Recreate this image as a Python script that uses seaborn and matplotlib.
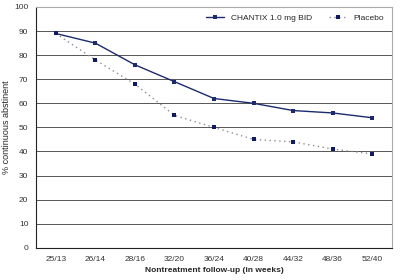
import matplotlib
matplotlib.use("Agg")
import matplotlib.pyplot as plt
import seaborn as sns
import pandas as pd

# datos
semanas = ["25/13", "26/14", "28/16", "32/20", "36/24", "40/28", "44/32", "48/36", "52/40"]
chantix = [89, 85, 76, 69, 62, 60, 57, 56, 54]
placebo = [89, 78, 68, 55, 50, 45, 44, 41, 39]

sns.set_style("white")
plt.rcParams['font.family'] = ['Liberation Sans', 'DejaVu Sans']

fig, ax = plt.subplots(figsize=(4, 2.8), dpi=100)
fig.subplots_adjust(left=0.09, right=0.98, top=0.975, bottom=0.115)

df = pd.DataFrame({"x": range(len(semanas)), "CHANTIX 1.0 mg BID": chantix, "Placebo": placebo})

sns.lineplot(data=df, x="x", y="CHANTIX 1.0 mg BID", ax=ax, color="#1c2a6e", linewidth=1.0,
             marker="s", markersize=2.5, markeredgewidth=0, label="CHANTIX 1.0 mg BID")
sns.lineplot(data=df, x="x", y="Placebo", ax=ax, color="#8c8c9a", linewidth=1.0,
             linestyle=(0, (1, 2.5)), marker="s", markersize=3.5, markerfacecolor="#101a60",
             markeredgewidth=0, label="Placebo")

ax.set_ylim(0, 100)
ax.set_yticks(range(0, 101, 10))
ax.set_xlim(-0.5, len(semanas) - 0.5)
ax.set_xticks(range(len(semanas)))
ax.set_xticklabels(semanas)
ax.set_xticks([i - 0.5 for i in range(len(semanas) + 1)], minor=True)
ax.tick_params(axis="x", which="major", length=0, labelsize=6, pad=6, colors="#333333")
ax.tick_params(axis="x", which="minor", length=3, width=0.8, direction="in", color="#222222")
ax.tick_params(axis="y", labelsize=6, length=2, width=0.8, colors="#333333")
ax.grid(axis="y", color="#555555", linewidth=0.7)
ax.set_axisbelow(True)

for s in ["top", "right"]:
    ax.spines[s].set_color("#aaaaaa")
for s in ["left", "bottom"]:
    ax.spines[s].set_color("#222222")
    ax.spines[s].set_linewidth(0.8)

ax.set_xlabel("Nontreatment follow-up (in weeks)", fontsize=6, fontweight="bold", labelpad=3)
ax.set_ylabel("% continuous abstinent", fontsize=6.5, labelpad=2)
ax.legend(loc="upper right", frameon=False, fontsize=6, ncol=2, handlelength=2.2,
          columnspacing=2.0, bbox_to_anchor=(1.0, 1.0))

plt.savefig("out.png", dpi=100)
